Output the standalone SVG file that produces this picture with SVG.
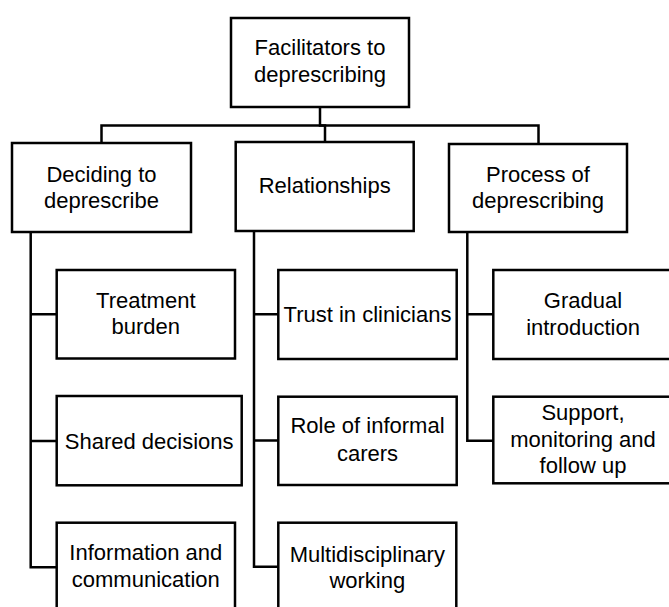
<svg xmlns="http://www.w3.org/2000/svg" width="669" height="607" viewBox="0 0 669 607">
<style>
.box{fill:#fff;stroke:#000;stroke-width:2.5}
.ln{fill:none;stroke:#000;stroke-width:2.5}
text{font-family:"Liberation Sans",Arial,sans-serif;font-size:22px;fill:#000;text-anchor:middle}
</style>
<rect width="669" height="607" fill="#fff"/>
<g id="connectors">
<path class="ln" d="M320,107 V125.5 H325 V142"/>
<path class="ln" d="M101.5,143 V125.5 H538.5 V144"/>
<path class="ln" d="M30.7,232 V567.3 H56.7 M30.7,314.3 H56.7 M30.7,441 H56.7"/>
<path class="ln" d="M254,231 V566.7 H278.3 M254,314.3 H278.3 M254,440.5 H278.3"/>
<path class="ln" d="M467.3,232 V440.7 H493.3 M467.3,314.3 H493.3"/>
</g>
<g id="root"><rect class="box" x="231" y="18" width="178" height="89"/>
<text x="320" y="55">Facilitators to</text><text x="320" y="82">deprescribing</text></g>
<g id="deciding"><rect class="box" x="12" y="143" width="179" height="89"/>
<text x="101.5" y="181.7">Deciding to</text><text x="101.5" y="208.3">deprescribe</text></g>
<g id="relationships"><rect class="box" x="235.7" y="142" width="178" height="89"/>
<text x="324.7" y="193">Relationships</text></g>
<g id="process"><rect class="box" x="449" y="144" width="178" height="88"/>
<text x="538" y="181.7">Process of</text><text x="538" y="208.3">deprescribing</text></g>
<g id="treatment"><rect class="box" x="56.7" y="270" width="178.3" height="88.5"/>
<text x="145.8" y="307.7">Treatment</text><text x="145.8" y="334.3">burden</text></g>
<g id="shared"><rect class="box" x="56.7" y="396" width="185" height="89.3"/>
<text x="149.2" y="448.5">Shared decisions</text></g>
<g id="information"><rect class="box" x="56.7" y="522.7" width="178.3" height="95"/>
<text x="145.8" y="560">Information and</text><text x="145.8" y="586.7">communication</text></g>
<g id="trust"><rect class="box" x="278.3" y="270" width="178.4" height="89"/>
<text x="367.5" y="322">Trust in clinicians</text></g>
<g id="role"><rect class="box" x="278.3" y="396.7" width="178.4" height="88.3"/>
<text x="367.5" y="433.3">Role of informal</text><text x="367.5" y="460.5">carers</text></g>
<g id="multi"><rect class="box" x="278.3" y="522.7" width="178" height="95"/>
<text x="367.3" y="561.7">Multidisciplinary</text><text x="367.3" y="588.3">working</text></g>
<g id="gradual"><rect class="box" x="493.3" y="270" width="190" height="89"/>
<text x="583" y="308.3">Gradual</text><text x="583" y="334.5">introduction</text></g>
<g id="support"><rect class="box" x="493.3" y="396.7" width="190" height="86.6"/>
<text x="583" y="420">Support,</text><text x="583" y="446.7">monitoring and</text><text x="583" y="473.3">follow up</text></g>
</svg>
